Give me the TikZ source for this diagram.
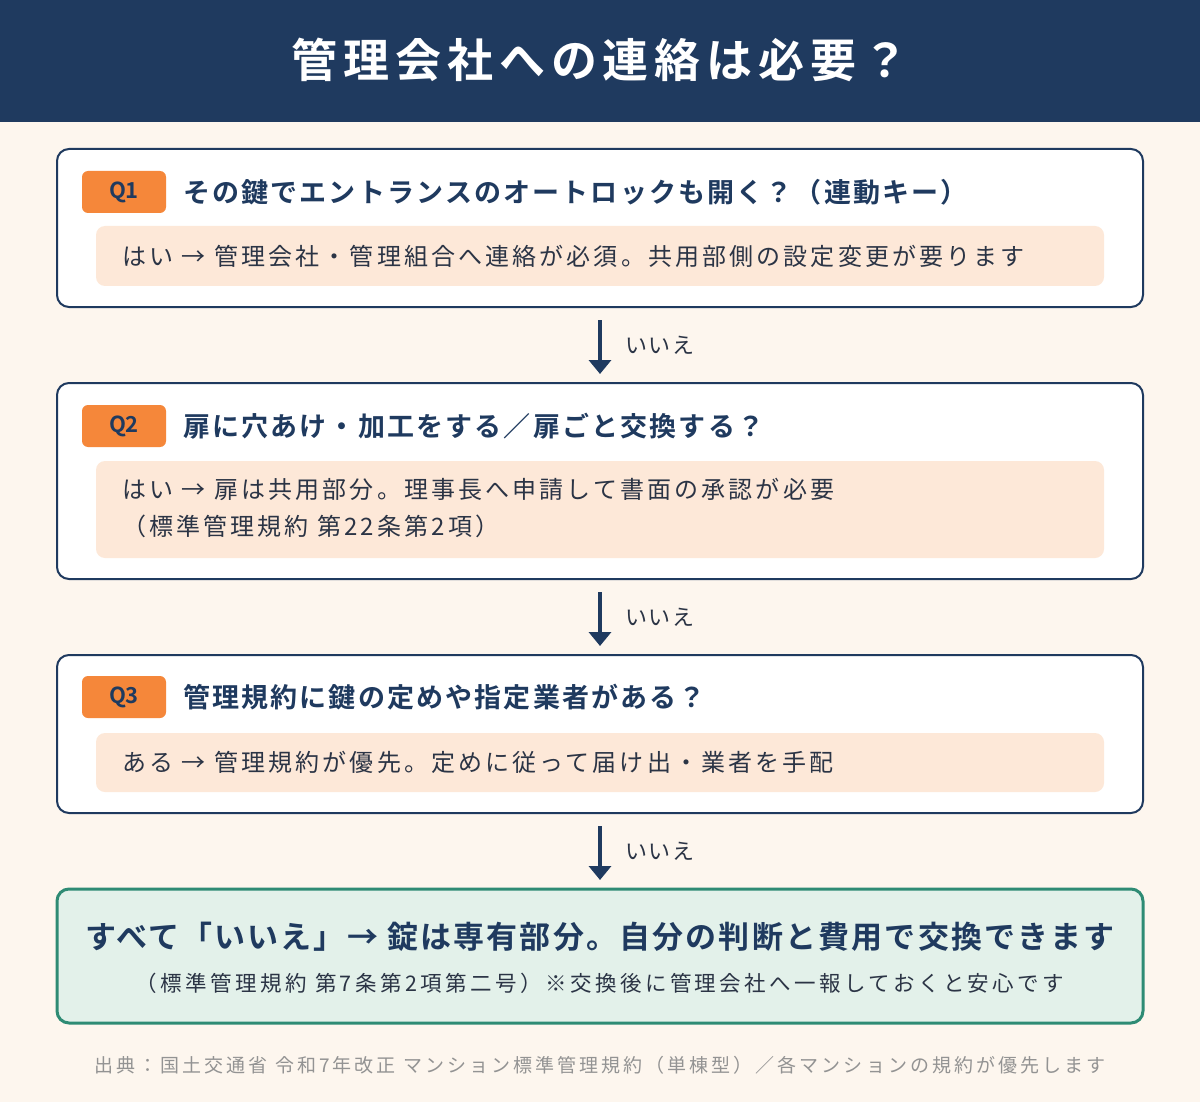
\documentclass[tikz,border=0pt]{standalone}
\usepackage{fontspec}
\setmainfont{Noto Sans CJK JP}[BoldFont={Noto Sans CJK JP Bold}]
\usetikzlibrary{arrows.meta}
\definecolor{navy}{HTML}{1F3A5F}
\definecolor{bg}{HTML}{FDF6EE}
\definecolor{org}{HTML}{F5873A}
\definecolor{ans}{HTML}{FDE8D8}
\definecolor{grn}{HTML}{2E8B74}
\definecolor{grnbg}{HTML}{E3F1EA}
\definecolor{txt}{HTML}{2B3445}
\newcommand{\ls}[1]{\addfontfeature{LetterSpace=#1}}
\begin{document}
\begin{tikzpicture}[x=1pt,y=-1pt,
 qbox/.style={draw=navy,line width=2pt,fill=white,rounded corners=12pt},
 abox/.style={fill=ans,rounded corners=9pt},
 badge/.style={fill=org,rounded corners=6pt,minimum width=84pt,minimum height=42pt,inner sep=0pt,font=\fontsize{22}{24}\selectfont\bfseries,text=navy},
 qtext/.style={anchor=west,font=\fontsize{27}{30}\selectfont\bfseries\ls{8},text=navy,inner sep=0pt},
 atext/.style={anchor=west,align=left,font=\fontsize{24}{37}\selectfont\ls{13},text=txt,inner sep=0pt},
 arr/.style={draw=navy,line width=4pt,-{Triangle[length=14pt,width=22pt]}},
 lbl/.style={anchor=west,font=\fontsize{22}{24}\selectfont\ls{8},text=txt,inner sep=0pt}]
\fill[bg] (0,0) rectangle (1200,1102);
\fill[navy] (0,0) rectangle (1200,122);
\node[text=white,font=\fontsize{46}{50}\selectfont\bfseries\ls{13}] (title) at (600,60) {管理会社への連絡は必要？};
% Q1
\draw[qbox] (57,149) rectangle (1143,307);
\node[badge] (q1) at (124,192) {Q1};
\node[qtext] (q1t) at (183,192) {その鍵でエントランスのオートロックも開く？（連動キー）};
\fill[abox] (96,226) rectangle (1104,286);
\node[atext] (a1) at (122,256) {はい → 管理会社・管理組合へ連絡が必須。共用部側の設定変更が要ります};
\coordinate (s1) at (600,320); \coordinate (e1) at (600,374);
\draw[arr] (s1) -- (e1);
\node[lbl] (l1) at (625,345) {いいえ};
% Q2
\draw[qbox] (57,383) rectangle (1143,579);
\node[badge] (q2) at (124,426) {Q2};
\node[qtext] (q2t) at (183,426) {扉に穴あけ・加工をする／扉ごと交換する？};
\fill[abox] (96,461) rectangle (1104,558);
\node[atext] (a2) at (122,508) {はい → 扉は共用部分。理事長へ申請して書面の承認が必要\\（標準管理規約 第22条第2項）};
\coordinate (s2) at (600,592); \coordinate (e2) at (600,646);
\draw[arr] (s2) -- (e2);
\node[lbl] (l2) at (625,617) {いいえ};
% Q3
\draw[qbox] (57,655) rectangle (1143,813);
\node[badge] (q3) at (124,697) {Q3};
\node[qtext] (q3t) at (183,697) {管理規約に鍵の定めや指定業者がある？};
\fill[abox] (96,733) rectangle (1104,792);
\node[atext] (a3) at (122,762) {ある → 管理規約が優先。定めに従って届け出・業者を手配};
\coordinate (s3) at (600,826); \coordinate (e3) at (600,880);
\draw[arr] (s3) -- (e3);
\node[lbl] (l3) at (625,851) {いいえ};
% final
\draw[draw=grn,line width=3pt,fill=grnbg,rounded corners=12pt] (57,889) rectangle (1143,1023);
\node[font=\fontsize{31}{34}\selectfont\bfseries\ls{7},text=navy] (f1) at (600,937) {すべて「いいえ」→ 錠は専有部分。自分の判断と費用で交換できます};
\node[font=\fontsize{21.5}{24}\selectfont\ls{16},text=txt] (f2) at (600,983) {（標準管理規約 第7条第2項第二号）※交換後に管理会社へ一報しておくと安心です};
\node[font=\fontsize{19}{22}\selectfont\ls{16},text=gray!85] (src) at (600,1065) {出典：国土交通省 令和7年改正 マンション標準管理規約（単棟型）／各マンションの規約が優先します};
\end{tikzpicture}
\end{document}
